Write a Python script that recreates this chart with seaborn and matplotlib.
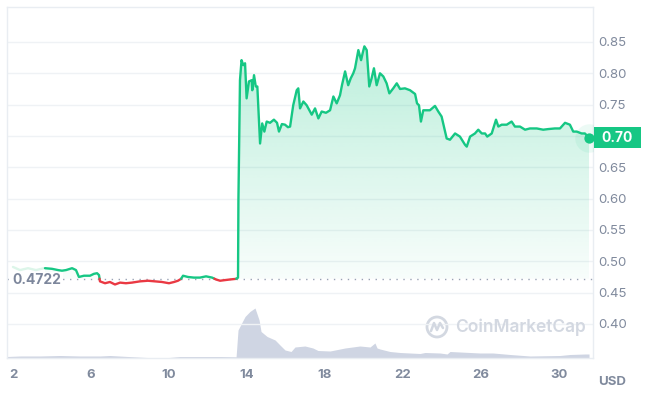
import numpy as np
import matplotlib
matplotlib.use("Agg")
import matplotlib.pyplot as plt
import matplotlib.transforms as mtransforms
from matplotlib.path import Path
from matplotlib.patches import Rectangle, Circle
from matplotlib.lines import Line2D
from matplotlib.colors import to_rgb
import seaborn as sns

# price line, day of month -> USD
lead_days = [2.00, 2.36, 2.77, 3.18, 3.59]
lead_prices = [0.491, 0.486, 0.489, 0.486, 0.489]

days = [3.64, 4.00, 4.31, 4.51, 4.72, 5.03, 5.23, 5.38, 5.64, 5.95, 6.15, 6.31, 6.41, 6.46,
        6.72, 6.97, 7.23, 7.49, 7.79, 8.10, 8.51, 8.92, 9.28, 9.64, 10.00, 10.26, 10.46, 10.62,
        10.72, 10.97, 11.28, 11.59, 11.90, 12.21, 12.41, 12.62, 12.87, 13.13, 13.44, 13.54,
        13.56, 13.64, 13.72, 13.81, 13.90, 13.98, 14.10, 14.24, 14.27, 14.36, 14.45, 14.53,
        14.67, 14.78, 14.89, 15.01, 15.18, 15.38, 15.54, 15.64, 15.79, 15.95, 16.10, 16.21,
        16.37, 16.55, 16.63, 16.72, 16.89, 17.06, 17.32, 17.49, 17.66, 17.83, 18.05, 18.26,
        18.43, 18.60, 18.77, 18.87, 19.03, 19.19, 19.32, 19.45, 19.54, 19.71, 19.85, 19.93,
        20.02, 20.14, 20.27, 20.39, 20.51, 20.65, 20.82, 20.99, 21.16, 21.30, 21.50, 21.68,
        21.85, 22.10, 22.36, 22.62, 22.72, 22.82, 22.92, 23.04, 23.38, 23.64, 23.81, 23.98,
        24.24, 24.41, 24.67, 24.92, 25.18, 25.27, 25.44, 25.69, 25.86, 26.04, 26.21, 26.32,
        26.55, 26.77, 26.89, 27.06, 27.32, 27.57, 27.74, 28.00, 28.26, 28.51, 28.86, 29.19,
        29.45, 29.79, 30.05, 30.31, 30.56, 30.73, 30.91, 31.16, 31.33, 31.54]
prices = [0.489, 0.488, 0.486, 0.485, 0.486, 0.489, 0.486, 0.475, 0.477, 0.477, 0.480, 0.481, 0.478, 0.468,
          0.465, 0.467, 0.463, 0.466, 0.465, 0.466, 0.468, 0.469, 0.468, 0.467, 0.465, 0.467, 0.469, 0.472,
          0.477, 0.475, 0.474, 0.474, 0.476, 0.474, 0.471, 0.469, 0.470, 0.471, 0.472, 0.474,
          0.598, 0.789, 0.821, 0.813, 0.816, 0.760, 0.787, 0.789, 0.773, 0.797, 0.779, 0.779,
          0.688, 0.720, 0.707, 0.723, 0.721, 0.726, 0.721, 0.707, 0.719, 0.718, 0.714, 0.715,
          0.749, 0.773, 0.776, 0.744, 0.755, 0.749, 0.734, 0.744, 0.728, 0.739, 0.737, 0.741,
          0.763, 0.752, 0.765, 0.781, 0.803, 0.781, 0.792, 0.800, 0.808, 0.837, 0.821, 0.832,
          0.843, 0.837, 0.779, 0.792, 0.808, 0.781, 0.800, 0.795, 0.784, 0.768, 0.776, 0.784,
          0.775, 0.776, 0.773, 0.767, 0.752, 0.749, 0.723, 0.741, 0.741, 0.748, 0.739, 0.731,
          0.696, 0.694, 0.704, 0.699, 0.686, 0.683, 0.699, 0.704, 0.710, 0.704, 0.704, 0.699,
          0.704, 0.726, 0.715, 0.718, 0.718, 0.723, 0.715, 0.715, 0.710, 0.712, 0.712, 0.710,
          0.711, 0.712, 0.712, 0.721, 0.718, 0.707, 0.707, 0.704, 0.704, 0.697]

# volume (arbitrary units, relative bar height)
vol_days = [1.69, 2.36, 3.38, 4.41, 5.44, 6.46, 6.97, 7.90, 8.87, 10.00, 10.56, 11.59, 12.62,
            13.44, 13.54, 13.90, 14.15, 14.41, 14.62, 14.72, 15.03, 15.44, 15.69, 15.95, 16.26,
            16.46, 16.97, 17.38, 17.64, 18.26, 19.03, 19.79, 20.31, 20.56, 20.67, 20.82, 21.33,
            21.85, 22.36, 22.87, 23.13, 23.90, 24.26, 24.41, 25.44, 25.95, 26.62, 27.49, 28.51,
            30.05, 30.56, 31.33, 31.54]
vol_values = [1.5, 2, 2, 2.5, 2, 2, 2.5, 1.5, 0.5, 0.5, 1.5, 1.5, 1.5,
              1.2, 28, 41.5, 46.5, 50, 38, 26.5, 21.5, 18, 13, 8, 6.5,
              11, 12, 10, 7.5, 7, 10, 12, 11, 15, 10, 9, 6.5,
              5.5, 5, 4.5, 5.5, 5, 4, 6.5, 5.5, 5, 5, 3.5, 2,
              2.5, 3.5, 4, 4]

open_price = 0.4722
last_label = "0.70"
x_ticks = [2, 6, 10, 14, 18, 22, 26, 30]
y_ticks = [0.40, 0.45, 0.50, 0.55, 0.60, 0.65, 0.70, 0.75, 0.80, 0.85]

GREEN = "#16c784"
RED = "#ea3943"
GREY = "#808a9d"
GRID = "#eff2f5"
VOL = "#cfd5e3"


def split_runs(x, y, base):
    # break the line where it crosses the opening price so each part gets its colour
    runs = []
    cx, cy = [x[0]], [y[0]]
    up = y[0] >= base
    for i in range(1, len(x)):
        now_up = y[i] >= base
        if now_up != up:
            t = (base - y[i - 1]) / (y[i] - y[i - 1])
            xc = x[i - 1] + t * (x[i] - x[i - 1])
            cx.append(xc)
            cy.append(base)
            runs.append((up, cx, cy))
            cx, cy = [xc], [base]
            up = now_up
        cx.append(x[i])
        cy.append(y[i])
    runs.append((up, cx, cy))
    return runs


sns.set_theme(style="white")
plt.rcParams["font.family"] = ["Inter", "DejaVu Sans"]

fig = plt.figure(figsize=(6.46, 3.98), dpi=100)
ax = fig.add_axes([7 / 646, 40 / 398, 586 / 646, 351 / 398])

# volume underneath
ax2 = ax.twinx()
ax2.fill_between(vol_days, vol_values, color=VOL, lw=0)
ax2.set_ylim(0, 351)
ax2.set_yticks([])
for s in ax2.spines.values():
    s.set_visible(False)
ax.set_zorder(ax2.get_zorder() + 1)
ax.patch.set_visible(False)

# faint start of the series
sns.lineplot(x=lead_days, y=lead_prices, ax=ax, color="#dcf5e9", linewidth=1.7,
             sort=False, estimator=None, zorder=4)

runs = split_runs(days, prices, open_price)
all_x, all_y = [], []
for up, rx, ry in runs:
    sns.lineplot(x=rx, y=ry, ax=ax, color=GREEN if up else RED, linewidth=1.7,
                 sort=False, estimator=None, zorder=4)
    all_x += rx
    all_y += ry

# gradient fill between line and opening price
fill_y = np.maximum(np.array(all_y), open_price)
verts = [(all_x[0], open_price)] + list(zip(all_x, fill_y)) + [(all_x[-1], open_price)]
clip = Path(verts)
grad = np.linspace(0, 1, 256).reshape(-1, 1)
rgba = np.zeros((256, 1, 4))
rgba[..., :3] = to_rgb(GREEN)
rgba[..., 3] = 0.03 + 0.27 * grad
im = ax.imshow(rgba, extent=[all_x[0], all_x[-1], open_price, 0.86], origin="lower",
               aspect="auto", zorder=1, interpolation="bilinear")
im.set_clip_path(clip, transform=ax.transData)

# opening price reference
ax.axhline(open_price, color="#9aa3b5", lw=1, ls=(0, (1, 4)), zorder=2)
blend = mtransforms.blended_transform_factory(ax.transAxes, ax.transData)
ax.text(0.009, open_price - 0.002, f"{open_price:.4f}", transform=blend, va="center", ha="left",
        fontsize=10, fontweight="bold", color="#7d879c",
        bbox=dict(fc="white", ec="none", pad=1), zorder=3)

# last price marker and tag
ax.scatter([days[-1]], [prices[-1]], s=420, color=GREEN, alpha=0.08, lw=0, zorder=5)
ax.scatter([days[-1]], [prices[-1]], s=55, color=GREEN, lw=0, zorder=6)
h = 21 / 626.7
ax.add_patch(Rectangle((1.0017, prices[-1] - h / 2), 0.080, h, transform=blend,
                       fc=GREEN, ec="none", clip_on=False, zorder=6))
ax.text(1.0417, prices[-1], last_label, transform=blend, ha="center", va="center",
        color="white", fontsize=10, fontweight="bold", zorder=7, clip_on=False)

ax.set_xlim(1.692, 31.744)
ax.set_ylim(0.3457, 0.9058)
ax.set_xticks(x_ticks)
ax.set_xticklabels([str(t) for t in x_ticks], fontweight="bold")
ax.set_yticks(y_ticks)
ax.set_yticklabels(["" if abs(v - 0.70) < 1e-9 else f"{v:.2f}" for v in y_ticks])
ax.yaxis.tick_right()
ax.tick_params(axis="y", length=0, pad=4, labelsize=9.5, labelcolor=GREY)
ax.tick_params(axis="x", length=0, pad=8, labelsize=9.5, labelcolor=GREY)
ax.grid(axis="y", color=GRID, lw=1)
ax.grid(axis="x", visible=False)
ax.set_xlabel("")
ax.set_ylabel("")
for s in ax.spines.values():
    s.set_visible(True)
    s.set_color("#e9edf2")
    s.set_linewidth(1)

fig.text(598 / 646, 1 - 382 / 398, "USD", fontsize=9.5, fontweight="bold", color=GREY,
         va="center", ha="left")

# watermark
wm = "#d3d8e1"
pix = mtransforms.IdentityTransform()
fig.add_artist(Circle((437, 71), 10, transform=pix, fill=False, ec=wm, lw=2))
fig.add_artist(Line2D([431, 434, 437, 440, 443], [67, 75, 68, 75, 70], transform=pix,
                      color=wm, lw=1.8))
fig.text(455 / 646, 71 / 398, "CoinMarketCap", fontsize=12.5, fontweight="semibold",
         color=wm, va="center", ha="left")

fig.savefig("out.png", dpi=100)
